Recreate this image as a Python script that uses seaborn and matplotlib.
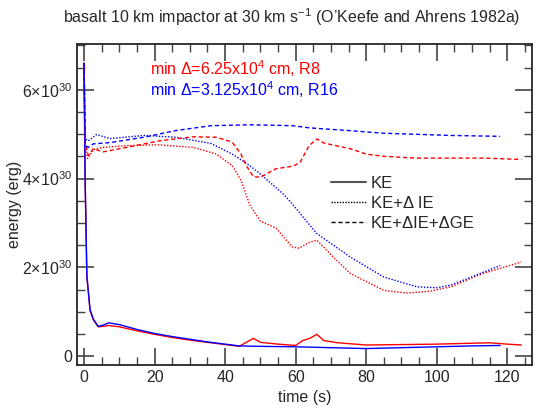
import seaborn as sns
import pandas as pd
import matplotlib.pyplot as plt
from matplotlib.lines import Line2D
from matplotlib.ticker import MultipleLocator, FuncFormatter

# energies in units of 1e30 erg, time in s
# R8 (red) kinetic energy
t_ke_r8 = [0, 0.3, 0.8, 1.7, 2.6, 4, 5.5, 7, 10, 15, 20, 25, 30, 35, 40, 44,
           46, 48, 50, 55, 60, 62, 64, 66, 68, 72, 80, 90, 100, 110, 115, 120, 124]
ke_r8 = [6.6, 4.0, 1.8, 1.03, 0.82, 0.66, 0.67, 0.69, 0.66, 0.57, 0.49, 0.42, 0.36, 0.31, 0.26, 0.22,
         0.31, 0.40, 0.31, 0.27, 0.24, 0.35, 0.40, 0.49, 0.35, 0.30, 0.25, 0.26, 0.27, 0.29, 0.30, 0.27, 0.25]

# R16 (blue) kinetic energy
t_ke_r16 = [0, 0.3, 0.8, 1.7, 2.6, 4, 5.5, 7, 10, 15, 20, 25, 30, 35, 40, 44,
            50, 60, 70, 80, 90, 100, 110, 118]
ke_r16 = [6.6, 4.0, 1.8, 1.05, 0.84, 0.67, 0.70, 0.75, 0.71, 0.60, 0.51, 0.44, 0.38, 0.32, 0.27, 0.23,
          0.22, 0.21, 0.19, 0.17, 0.19, 0.21, 0.23, 0.24]

# KE + dIE
t_ie_r8 = [0, 0.3, 1.0, 1.5, 2.6, 5.4, 12, 21, 31, 37.5, 42, 44.5, 47, 50, 54.5, 59, 61, 63.8,
           66, 70.7, 75.5, 85, 91.5, 98, 104, 113, 124]
ie_r8 = [6.6, 4.8, 4.45, 4.5, 4.65, 4.70, 4.74, 4.76, 4.70, 4.55, 4.29, 3.96, 3.40, 3.04, 2.88, 2.46, 2.43, 2.56,
         2.61, 2.23, 1.86, 1.48, 1.42, 1.46, 1.56, 1.86, 2.12]

t_ie_r16 = [0, 0.3, 1.2, 3.5, 7.4, 17, 26, 36, 42, 47, 50, 56.5, 59, 64, 66, 75.5, 85, 94.4, 100, 104, 118]
ie_r16 = [6.6, 4.9, 4.85, 4.99, 4.90, 4.97, 4.93, 4.79, 4.55, 4.29, 4.10, 3.65, 3.43, 2.95, 2.76, 2.23, 1.78,
          1.56, 1.54, 1.60, 2.04]

# KE + dIE + dGE
t_ge_r8 = [0, 0.3, 1.2, 2.6, 5.4, 12, 21.4, 31, 37.5, 42, 44.5, 46, 48, 50, 54.4, 59.4, 61.3, 63.8,
           66, 68, 75.5, 80, 85, 94, 113, 124]
ge_r8 = [6.6, 4.8, 4.52, 4.67, 4.60, 4.70, 4.85, 4.94, 4.93, 4.82, 4.55, 4.29, 4.04, 4.03, 4.22, 4.28, 4.37, 4.74,
         4.89, 4.80, 4.67, 4.55, 4.50, 4.46, 4.46, 4.43]

t_ge_r16 = [0, 0.3, 1.2, 2.6, 7.4, 17, 26, 36, 47, 59, 64, 75, 85, 104, 118]
ge_r16 = [6.6, 4.75, 4.7, 4.78, 4.81, 4.93, 5.08, 5.19, 5.21, 5.19, 5.14, 5.08, 5.02, 4.97, 4.95]

sns.set_style('ticks')
plt.rcParams['font.family'] = ['Liberation Sans', 'DejaVu Sans']
plt.rcParams['mathtext.fontset'] = 'custom'
plt.rcParams['mathtext.rm'] = 'Liberation Sans'
plt.rcParams['mathtext.it'] = 'Liberation Sans'

fig = plt.figure(figsize=(5.43, 4.15), dpi=100)
ax = fig.add_axes([0.1418, 0.1205, 0.8379, 0.7735])

series = [
    (t_ke_r8, ke_r8, 'red', None), (t_ke_r16, ke_r16, 'blue', None),
    (t_ie_r8, ie_r8, 'red', [1, 1.2]), (t_ie_r16, ie_r16, 'blue', [1, 1.2]),
    (t_ge_r8, ge_r8, 'red', [3, 2]), (t_ge_r16, ge_r16, 'blue', [3, 2]),
]
for t, v, c, dash in series:
    df = pd.DataFrame({'time': t, 'energy': [e * 1e30 for e in v]})
    sns.lineplot(data=df, x='time', y='energy', color=c, linewidth=1,
                 estimator=None, sort=False, ax=ax)
    if dash is not None:
        ax.lines[-1].set_dashes(dash)

ax.set_xlim(-2, 127)
ax.set_ylim(-0.2e30, 7.03e30)
ax.xaxis.set_major_locator(MultipleLocator(20))
ax.xaxis.set_minor_locator(MultipleLocator(5))
ax.yaxis.set_major_locator(MultipleLocator(2e30))
ax.yaxis.set_minor_locator(MultipleLocator(0.5e30))


def yfmt(v, pos):
    if abs(v) < 1e20:
        return '0'
    return '%d\u00d710$^{30}$' % round(v / 1e30)


ax.yaxis.set_major_formatter(FuncFormatter(yfmt))
ax.tick_params(which='both', direction='in', top=True, right=True, color='#444444', labelsize=11.5)
ax.tick_params(which='major', length=12, width=1.2)
ax.tick_params(which='minor', length=6, width=1)
for s in ax.spines.values():
    s.set_linewidth(1.3)

ax.set_xlabel('time (s)', fontsize=11.5, labelpad=4)
ax.set_ylabel('energy (erg)', fontsize=11.5)
ax.yaxis.set_label_coords(-0.121, 0.5)
fig.text(0.538, 0.958, 'basalt 10 km impactor at 30 km s$^{-1}$ (O\u2019Keefe and Ahrens 1982a)',
         ha='center', va='center', fontsize=11.5)

ax.text(18.7, 6.47e30, 'min \u0394=6.25x10$^4$ cm, R8', color='red', fontsize=11.5, va='center')
ax.text(18.7, 6.0e30, 'min \u0394=3.125x10$^4$ cm, R16', color='blue', fontsize=11.5, va='center')

handles = [
    Line2D([], [], color='#555555', linewidth=1.5, linestyle='-'),
    Line2D([], [], color='black', linewidth=1, dashes=[1, 1]),
    Line2D([], [], color='black', linewidth=1, dashes=[3, 2]),
]
ax.legend(handles, ['KE', 'KE+\u0394 IE', 'KE+\u0394IE+\u0394GE'], frameon=False,
          loc='upper left', bbox_to_anchor=(0.525, 0.637), fontsize=12, handlelength=2.1,
          labelspacing=0.32, handletextpad=0.3)

fig.savefig('out.png', dpi=100)
